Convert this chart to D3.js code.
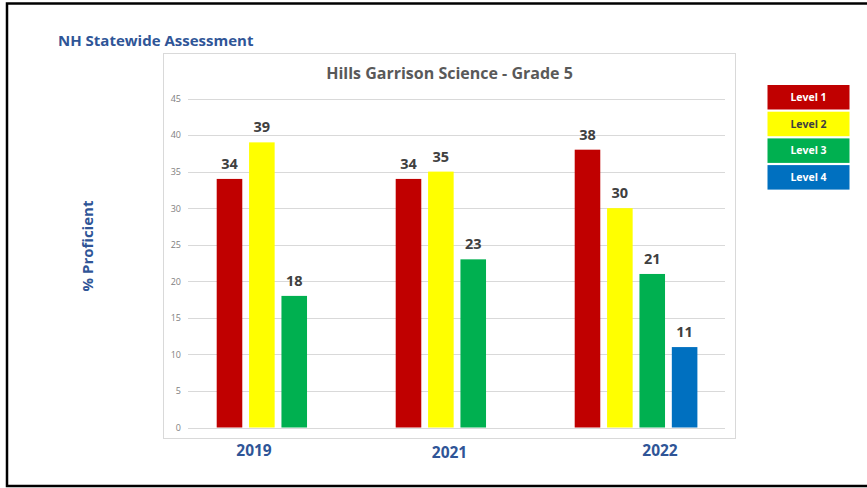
<!DOCTYPE html>
<html>
<head>
<meta charset="utf-8">
<script src="https://cdn.jsdelivr.net/npm/d3@7"></script>
<style>
  html, body { margin: 0; padding: 0; background: #fff; }
  svg { display: block; }
  text { font-family: "Open Sans", "DejaVu Sans", sans-serif; }
</style>
</head>
<body>
<svg id="chart" width="867" height="488"></svg>
<script>
// ---- data ----
const years = ["2019", "2021", "2022"];
const levels = ["Level 1", "Level 2", "Level 3", "Level 4"];
const level1 = [34, 34, 38];
const level2 = [39, 35, 30];
const level3 = [18, 23, 21];
const level4 = [null, null, 11];
const yTicks = [0, 5, 10, 15, 20, 25, 30, 35, 40, 45];
const pageTitle = "NH Statewide Assessment";
const chartTitle = "Hills Garrison Science - Grade 5";
const yAxisTitle = "% Proficient";

// ---- styles / layout ----
const colors = ["#C00000", "#FFFF00", "#00B050", "#0070C0"];
const legendText = ["#ffffff", "#404040", "#ffffff", "#ffffff"];
const blue = "#2F5597";
const yearLabelShift = [-23.5, -7, 24.5];

const series = [level1, level2, level3, level4];
const svg = d3.select("#chart");

svg.append("rect").attr("width", 867).attr("height", 488).attr("fill", "#fff");

// frame
svg.append("path")
  .attr("d", "M867,3.5 L7,3.5 L7,486 L867,486")
  .attr("fill", "none").attr("stroke", "#000").attr("stroke-width", 2.5);

svg.append("text").attr("x", 58).attr("y", 46)
  .attr("font-size", 15).attr("font-weight", 700).attr("fill", blue)
  .text(pageTitle);

// chart box
svg.append("rect").attr("x", 163.5).attr("y", 53.5).attr("width", 572).attr("height", 385)
  .attr("fill", "#fff").attr("stroke", "#D9D9D9").attr("stroke-width", 1);

svg.append("text").attr("x", 449.5).attr("y", 79).attr("text-anchor", "middle")
  .attr("font-size", 16).attr("font-weight", 700).attr("fill", "#595959")
  .text(chartTitle);

const x0 = d3.scaleBand().domain(years).range([188, 725]).padding(0);
const x1 = d3.scaleBand().domain(levels).range([28.7, 151.4]).paddingInner(0.21).paddingOuter(0);
const y = d3.scaleLinear().domain([0, 45]).range([427.5, 98.5]);

// gridlines
svg.append("g").selectAll("line").data(yTicks).join("line")
  .attr("x1", 188).attr("x2", 725)
  .attr("y1", d => Math.round(y(d)) + 0.5).attr("y2", d => Math.round(y(d)) + 0.5)
  .attr("stroke", "#D9D9D9").attr("stroke-width", 1);

// y tick labels via axis
const yAxis = svg.append("g").attr("transform", "translate(188,0)")
  .call(d3.axisLeft(y).tickValues(yTicks).tickSize(0).tickPadding(7));
yAxis.select(".domain").remove();
yAxis.selectAll("text").attr("font-size", 9).attr("fill", "#808080")
  .attr("font-family", "\"Open Sans\", sans-serif");

// bars
const groups = svg.append("g").selectAll("g").data(years).join("g")
  .attr("transform", d => `translate(${x0(d)},0)`);

const cells = (yi) => levels.map((l, li) => ({ level: l, li, v: series[li][yi] }))
  .filter(d => d.v !== null);

groups.selectAll("rect").data((d, i) => cells(i)).join("rect")
  .attr("x", d => x1(d.level)).attr("width", x1.bandwidth())
  .attr("y", d => y(d.v)).attr("height", d => y(0) - y(d.v))
  .attr("fill", d => colors[d.li]);

groups.selectAll("text").data((d, i) => cells(i)).join("text")
  .attr("x", d => x1(d.level) + x1.bandwidth() / 2)
  .attr("y", d => y(d.v) - 10)
  .attr("text-anchor", "middle").attr("font-size", 14.5).attr("font-weight", 700)
  .attr("fill", "#404040")
  .text(d => d.v);

// x labels
svg.append("g").selectAll("text").data(years).join("text")
  .attr("x", (d, i) => x0(d) + x0.bandwidth() / 2 + yearLabelShift[i])
  .attr("y", (d, i) => i === 1 ? 457.5 : 456)
  .attr("text-anchor", "middle").attr("font-size", 15.5).attr("font-weight", 700)
  .attr("fill", blue)
  .text(d => d);

// y axis title
svg.append("text").attr("transform", "translate(93,246) rotate(-90)")
  .attr("text-anchor", "middle").attr("font-size", 15).attr("font-weight", 700)
  .attr("fill", blue).text(yAxisTitle);

// legend
const legend = svg.append("g").selectAll("g").data(levels).join("g")
  .attr("transform", (d, i) => `translate(767.5,${85 + i * 26.7})`);
legend.append("rect").attr("width", 82).attr("height", 24.5)
  .attr("fill", (d, i) => colors[i]);
legend.append("text").attr("x", 41).attr("y", 12.25).attr("dy", "0.35em")
  .attr("text-anchor", "middle").attr("font-size", 10.5).attr("font-weight", 700)
  .attr("fill", (d, i) => legendText[i]).text(d => d);
</script>
</body>
</html>
